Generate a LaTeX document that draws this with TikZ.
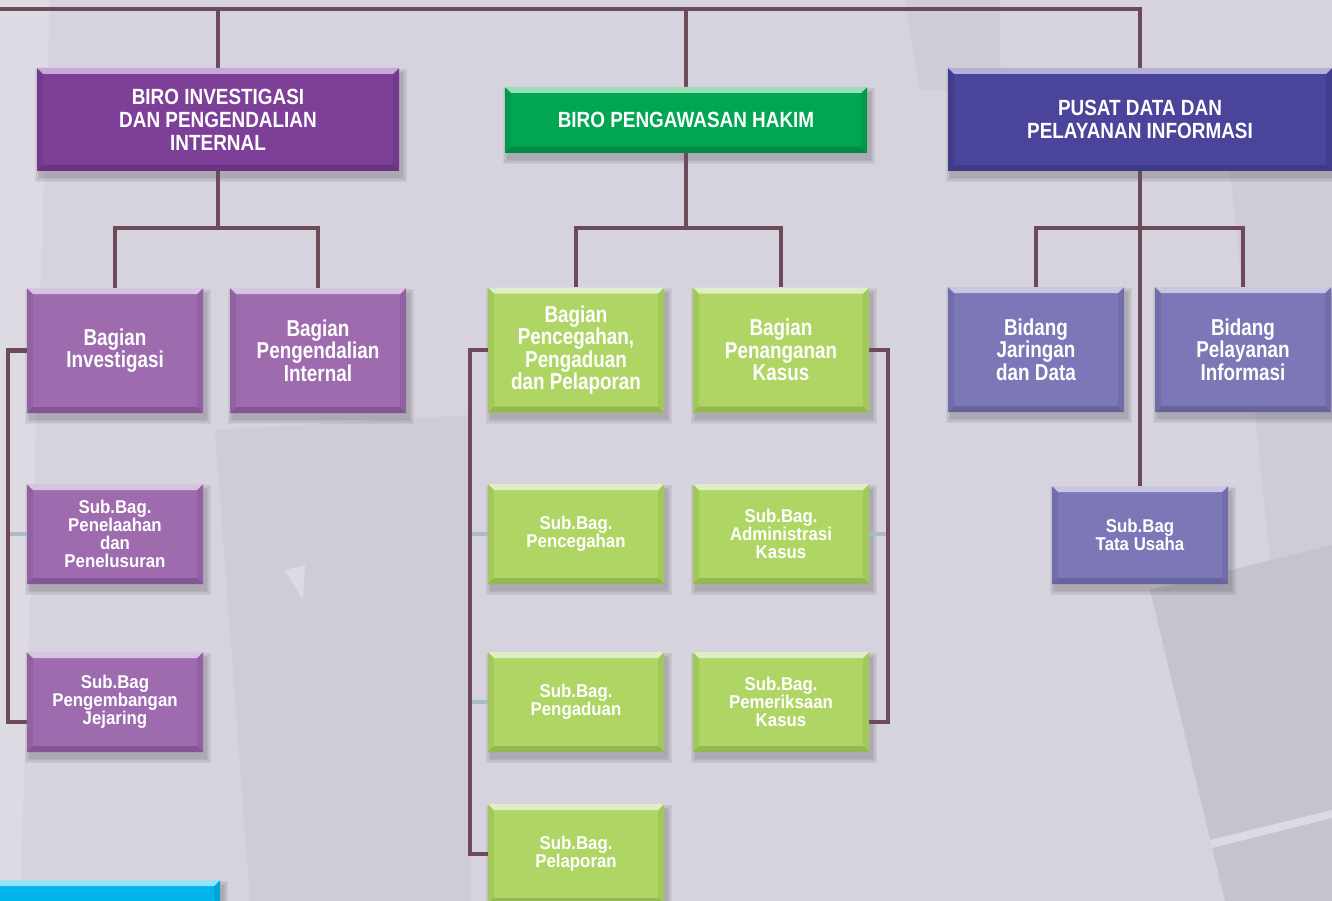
\documentclass[tikz,border=0pt]{standalone}
\usepackage{fontspec}
\setmainfont{Liberation Sans}
\newfontfamily\titlefont{Liberation Sans}[FakeStretch=0.86]
\newfontfamily\unitfont{Liberation Sans}[FakeStretch=0.82]
\newfontfamily\subfont{Liberation Sans}[FakeStretch=0.91]
\usetikzlibrary{calc}

\pgfdeclarelayer{back}
\pgfdeclarelayer{links}
\pgfsetlayers{back,links,main}

% backdrop
\definecolor{bgbase}{HTML}{D7D3DE}
\definecolor{bgdark}{HTML}{C6C3CD}
\definecolor{bgmid}{HTML}{D0CCD7}
\definecolor{bglight}{HTML}{DDDAE3}
% connectors
\definecolor{linkc}{HTML}{6D4A58}
\definecolor{tickc}{HTML}{A9BCC4}
% deep purple
\definecolor{puA}{HTML}{7E3F98}\definecolor{puT}{HTML}{C8A8D4}
\definecolor{puB}{HTML}{6B3383}\definecolor{puS}{HTML}{74398C}
% light purple
\definecolor{plA}{HTML}{9E6BAF}\definecolor{plT}{HTML}{D8C3E0}
\definecolor{plB}{HTML}{845592}\definecolor{plS}{HTML}{9261A4}
% deep green
\definecolor{gdA}{HTML}{00A651}\definecolor{gdT}{HTML}{9ADDB8}
\definecolor{gdB}{HTML}{008A43}\definecolor{gdS}{HTML}{009A4B}
% light green
\definecolor{glA}{HTML}{AFD564}\definecolor{glT}{HTML}{DEEFC3}
\definecolor{glB}{HTML}{94B653}\definecolor{glS}{HTML}{A2C85A}
% deep indigo
\definecolor{inA}{HTML}{4A459B}\definecolor{inT}{HTML}{B2B0D8}
\definecolor{inB}{HTML}{3E3A84}\definecolor{inS}{HTML}{413D8E}
% light indigo
\definecolor{ilA}{HTML}{7C77B6}\definecolor{ilT}{HTML}{C8C6E3}
\definecolor{ilB}{HTML}{67639C}\definecolor{ilS}{HTML}{716DAB}
% cyan
\definecolor{cyA}{HTML}{00B5EC}\definecolor{cyT}{HTML}{98E3F9}
\definecolor{cyB}{HTML}{009CCC}\definecolor{cyS}{HTML}{00A5DA}

\def\bevw{6pt}

\tikzset{
  bevelbox/.style n args={4}{
    rectangle, inner sep=0pt, fill=#1, text=white, align=center,
    path picture={
      \path (path picture bounding box.north west) coordinate (pnw)
            (path picture bounding box.north east) coordinate (pne)
            (path picture bounding box.south west) coordinate (psw)
            (path picture bounding box.south east) coordinate (pse);
      \fill[#4] (pnw) -- ([shift={(\bevw,-\bevw)}]pnw) -- ([shift={(\bevw,\bevw)}]psw) -- (psw) -- cycle;
      \fill[#4] (pne) -- ([shift={(-\bevw,-\bevw)}]pne) -- ([shift={(-\bevw,\bevw)}]pse) -- (pse) -- cycle;
      \fill[#2] (pnw) -- (pne) -- ([shift={(-\bevw,-\bevw)}]pne) -- ([shift={(\bevw,-\bevw)}]pnw) -- cycle;
      \fill[#3] (psw) -- (pse) -- ([shift={(-\bevw,\bevw)}]pse) -- ([shift={(\bevw,\bevw)}]psw) -- cycle;
    }},
  ttl/.style={font=\titlefont\bfseries\fontsize{22}{23}\selectfont},
  unit/.style={font=\unitfont\bfseries\fontsize{23}{22.5}\selectfont,
               minimum width=176pt, minimum height=125pt},
  sub/.style={font=\subfont\bfseries\fontsize{18.5}{18}\selectfont,
              minimum width=176pt, minimum height=100pt},
  purpleT/.style={bevelbox={puA}{puT}{puB}{puS}},
  purpleL/.style={bevelbox={plA}{plT}{plB}{plS}},
  greenT/.style={bevelbox={gdA}{gdT}{gdB}{gdS}},
  greenL/.style={bevelbox={glA}{glT}{glB}{glS}},
  indigoT/.style={bevelbox={inA}{inT}{inB}{inS}},
  indigoL/.style={bevelbox={ilA}{ilT}{ilB}{ilS}},
  cyanbox/.style={bevelbox={cyA}{cyT}{cyB}{cyS}},
  conn/.style={draw=linkc, line width=4.5pt, line join=miter},
  tick/.style={draw=tickc, line width=4.5pt},
}

% soft shadow below and to the right of a box
\newcommand\softshadow[1]{%
  \foreach \g in {5pt,3.5pt,2pt,0.5pt}{%
    \fill[black,opacity=0.05]
      ([xshift=3pt,yshift=-6pt,shift={(-\g,-\g)}]#1.south west)
      rectangle ([xshift=3pt,yshift=-6pt,shift={(\g,\g)}]#1.north east);
  }%
}

\begin{document}
\begin{tikzpicture}[x=1pt,y=-1pt]
\useasboundingbox (0,0) rectangle (1332,901);

% backdrop planes
\begin{pgfonlayer}{back}
  \fill[bgbase] (0,0) rectangle (1332,901);
  \fill[bglight] (0,0) -- (50,0) -- (20,901) -- (0,901) -- cycle;
  \fill[bgmid] (215,430) -- (470,415) -- (470,901) -- (250,901) -- cycle;
  \fill[bglight] (285,570) -- (305,565) -- (303,600) -- cycle;
  \fill[bgmid] (905,0) -- (1000,0) -- (1000,90) -- (920,90) -- cycle;
  \fill[bgdark] (1150,590) -- (1332,545) -- (1332,901) -- (1225,901) -- cycle;
  \fill[bglight] (1210,840) -- (1332,810) -- (1332,818) -- (1212,848) -- cycle;
  \fill[bgmid] (1230,170) -- (1332,170) -- (1332,545) -- (1270,560) -- cycle;
\end{pgfonlayer}

% heads of the three bureaus
\node[purpleT, ttl, minimum width=362pt, minimum height=103pt] (biro1) at (218,119.5)
  {BIRO INVESTIGASI\\DAN PENGENDALIAN\\INTERNAL};
\node[greenT, ttl, minimum width=362pt, minimum height=66pt] (biro2) at (686,120)
  {BIRO PENGAWASAN HAKIM};
\node[indigoT, ttl, minimum width=384pt, minimum height=103pt] (biro3) at (1140,119.5)
  {PUSAT DATA DAN\\PELAYANAN INFORMASI};

% divisions
\node[purpleL, unit] (bi)  at (115,350.5) {Bagian\\Investigasi};
\node[purpleL, unit] (bp)  at (318,350.5) {Bagian\\Pengendalian\\Internal};
\node[greenL, unit]  (bpc) at (576,350)   {Bagian\\Pencegahan,\\Pengaduan\\dan Pelaporan};
\node[greenL, unit]  (bpk) at (781,350)   {Bagian\\Penanganan\\Kasus};
\node[indigoL, unit] (bjd) at (1036,349.5) {Bidang\\Jaringan\\dan Data};
\node[indigoL, unit] (bpi) at (1243,349.5) {Bidang\\Pelayanan\\Informasi};

% sub-divisions
\node[purpleL, sub] (sb11) at (115,534) {Sub.Bag.\\Penelaahan\\dan\\Penelusuran};
\node[purpleL, sub] (sb12) at (115,702) {Sub.Bag\\Pengembangan\\Jejaring};
\node[greenL, sub]  (sb21) at (576,534) {Sub.Bag.\\Pencegahan};
\node[greenL, sub]  (sb22) at (576,702) {Sub.Bag.\\Pengaduan};
\node[greenL, sub]  (sb23) at (576,854) {Sub.Bag.\\Pelaporan};
\node[greenL, sub]  (sb31) at (781,534) {Sub.Bag.\\Administrasi\\Kasus};
\node[greenL, sub]  (sb32) at (781,702) {Sub.Bag.\\Pemeriksaan\\Kasus};
\node[indigoL, sub, minimum height=98pt] (tu) at (1140,535) {Sub.Bag\\Tata Usaha};

% cyan bar at the lower left
\node[cyanbox, minimum width=230pt, minimum height=60pt] (cyan) at (105,910) {};

% shadows
\begin{pgfonlayer}{back}
  \foreach \n in {biro1,biro2,biro3,bi,bp,bpc,bpk,bjd,bpi,sb11,sb12,sb21,sb22,sb23,sb31,sb32,tu,cyan}
    {\softshadow{\n}}
\end{pgfonlayer}

% helper coordinates for the connector runs
\coordinate (top)  at (0,9);
\coordinate (rowA) at (0,228);
\coordinate (xL)   at (8,0);
\coordinate (xM)   at (470,0);
\coordinate (xR)   at (888,0);
\coordinate (e12)  at ([yshift=-20pt]sb12.west);
\coordinate (e32)  at ([yshift=-20pt]sb32.east);

\begin{pgfonlayer}{links}
  % light stubs to the sub-divisions
  \draw[tick] (sb11.west -| xL) -- (sb11.west);
  \draw[tick] (sb21.west -| xM) -- (sb21.west);
  \draw[tick] (sb22.west -| xM) -- (sb22.west);
  \draw[tick] (sb31.east -| xR) -- (sb31.east);

  % top bus
  \draw[conn] (top) -| (biro3.north);
  \draw[conn] (biro1.north) -- (biro1.north |- top);
  \draw[conn] (biro2.north) -- (biro2.north |- top);

  % bureau to divisions
  \draw[conn] (biro1.south) -- (biro1.south |- rowA);
  \draw[conn] (bi.north) |- (bp.north |- rowA) -- (bp.north);
  \draw[conn] (biro2.south) -- (biro2.south |- rowA);
  \draw[conn] (bpc.north) |- (bpk.north |- rowA) -- (bpk.north);
  \draw[conn] (biro3.south) -- (tu.north);
  \draw[conn] (bjd.north) |- (bpi.north |- rowA) -- (bpi.north);

  % division brackets
  \draw[conn] (bi.west) -- (bi.west -| xL) -- (e12 -| xL) -- (e12);
  \draw[conn] (bpc.west) -- (bpc.west -| xM) -- (sb23.west -| xM) -- (sb23.west);
  \draw[conn] (bpk.east) -- (bpk.east -| xR) -- (e32 -| xR) -- (e32);
\end{pgfonlayer}
\end{tikzpicture}
\end{document}
